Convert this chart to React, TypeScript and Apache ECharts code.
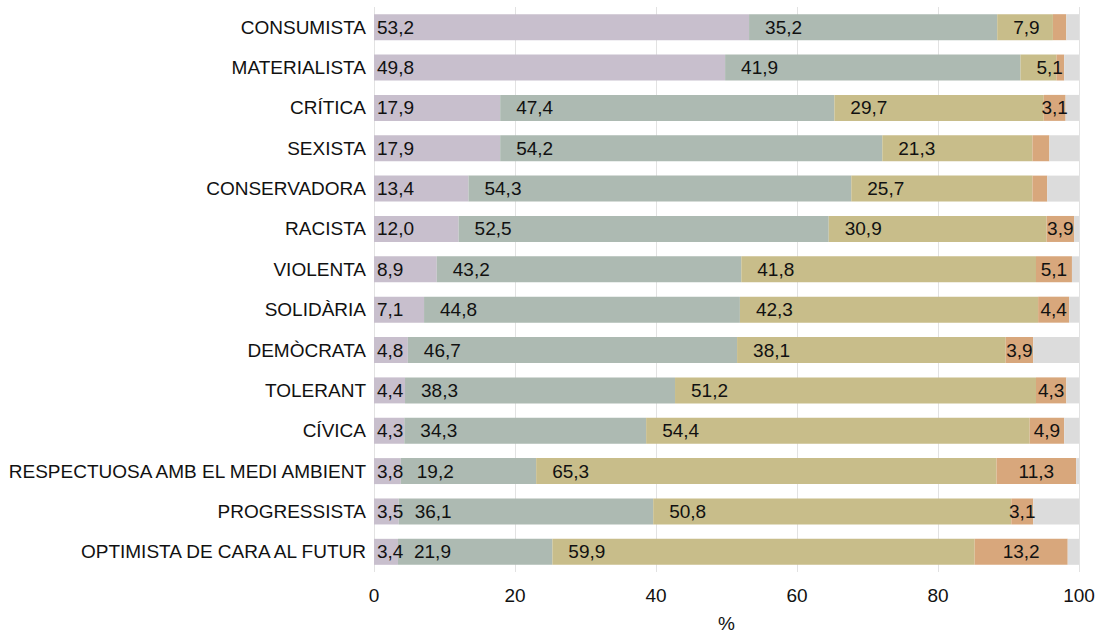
import React, { useEffect, useRef } from "react";
import * as echarts from "echarts";

const categories = [
  "CONSUMISTA",
  "MATERIALISTA",
  "CRÍTICA",
  "SEXISTA",
  "CONSERVADORA",
  "RACISTA",
  "VIOLENTA",
  "SOLIDÀRIA",
  "DEMÒCRATA",
  "TOLERANT",
  "CÍVICA",
  "RESPECTUOSA AMB EL MEDI AMBIENT",
  "PROGRESSISTA",
  "OPTIMISTA DE CARA AL FUTUR",
];

const seg1 = [53.2, 49.8, 17.9, 17.9, 13.4, 12.0, 8.9, 7.1, 4.8, 4.4, 4.3, 3.8, 3.5, 3.4];
const seg2 = [35.2, 41.9, 47.4, 54.2, 54.3, 52.5, 43.2, 44.8, 46.7, 38.3, 34.3, 19.2, 36.1, 21.9];
const seg3 = [7.9, 5.1, 29.7, 21.3, 25.7, 30.9, 41.8, 42.3, 38.1, 51.2, 54.4, 65.3, 50.8, 59.9];
const seg4 = [1.9, 1.1, 3.1, 2.4, 2.1, 3.9, 5.1, 4.4, 3.9, 4.3, 4.9, 11.3, 3.1, 13.2];
const seg5 = [1.8, 2.1, 1.9, 4.2, 4.5, 0.7, 1.0, 1.4, 6.5, 1.8, 2.1, 0.4, 6.5, 1.6];

const xTicks = [0, 20, 40, 60, 80, 100];

const colors = ["#c8bfcd", "#adbab2", "#c8bd8a", "#d8a77c", "#dcdcdc"];
const FONT = "'Liberation Sans', Arial, sans-serif";
const FS = 19;

const fmt = (v: number) => v.toFixed(1).replace(".", ",");

export default function App() {
  const ref = useRef<HTMLDivElement>(null);
  useEffect(() => {
    if (!ref.current) return;
    const chart = echarts.init(ref.current, null, { renderer: "svg" });

    const mkLabel = (position: any, distance: number, minShow: number) => ({
      show: true,
      position,
      distance,
      color: "#111",
      fontFamily: FONT,
      fontSize: FS,
      formatter: (p: any) => (p.value >= minShow ? fmt(p.value) : ""),
    });

    const base = {
      type: "bar",
      stack: "total",
      barWidth: 26,
      silent: true,
    };

    chart.setOption({
      animation: false,
      textStyle: { fontFamily: FONT },
      grid: { left: 374, right: 21, top: 7, bottom: 59, containLabel: false },
      xAxis: {
        type: "value",
        min: xTicks[0],
        max: xTicks[xTicks.length - 1],
        interval: 20,
        name: "%",
        nameLocation: "middle",
        nameGap: 42,
        nameTextStyle: { color: "#111", fontSize: FS, fontFamily: FONT },
        axisLine: { show: false },
        axisTick: { show: false },
        axisLabel: { color: "#111", fontSize: FS, fontFamily: FONT, margin: 14 },
        splitLine: { show: true, lineStyle: { color: "#e2e2e2", width: 1 } },
      },
      yAxis: {
        type: "category",
        data: categories,
        inverse: true,
        axisLine: { show: false },
        axisTick: { show: false },
        axisLabel: { color: "#111", fontSize: FS, fontFamily: FONT, margin: 8 },
        splitLine: { show: false },
      },
      series: [
        { ...base, name: "s1", data: seg1, itemStyle: { color: colors[0] }, label: mkLabel("insideLeft", 3, 0) },
        { ...base, name: "s2", data: seg2, itemStyle: { color: colors[1] }, label: mkLabel("insideLeft", 16, 0) },
        { ...base, name: "s3", data: seg3, itemStyle: { color: colors[2] }, label: mkLabel("insideLeft", 16, 0) },
        { ...base, name: "s4", data: seg4, itemStyle: { color: colors[3] }, label: mkLabel("inside", 0, 3) },
        { ...base, name: "s5", data: seg5, itemStyle: { color: colors[4] }, label: { show: false } },
      ],
    });
    return () => chart.dispose();
  }, []);
  return (
    <div
      ref={ref}
      style={{ position: "fixed", left: 0, top: 0, width: 1100, height: 638, background: "#fff" }}
    />
  );
}
